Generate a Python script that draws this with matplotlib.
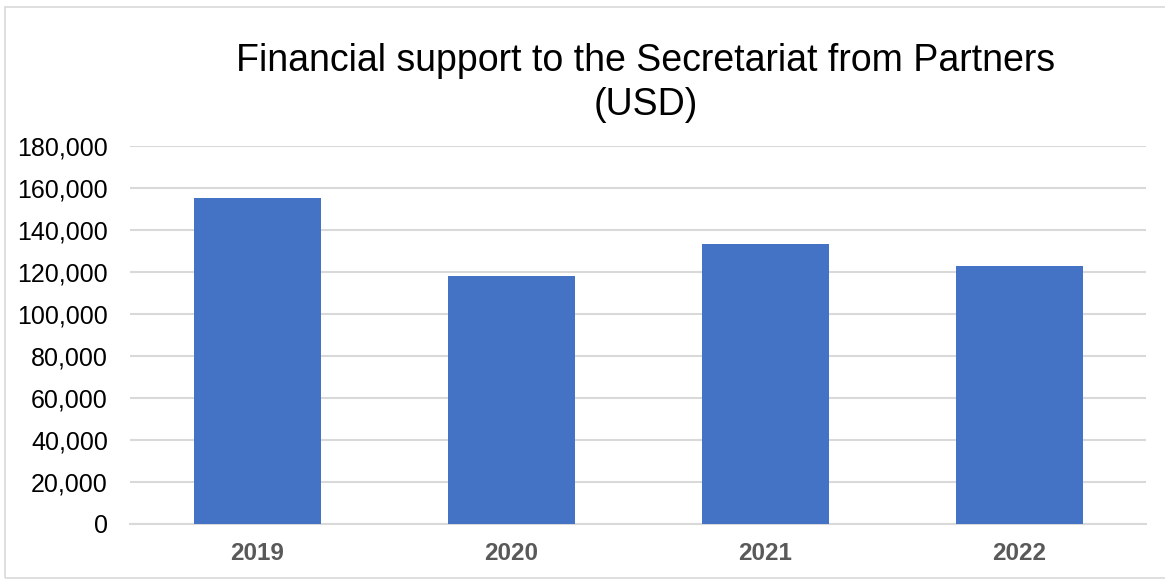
import matplotlib.pyplot as plt
from matplotlib.ticker import FuncFormatter
from matplotlib.patches import Rectangle

years = ["2019", "2020", "2021", "2022"]
support_usd = [155000, 118000, 133200, 123000]

plt.rcParams['font.family'] = ['Liberation Sans', 'DejaVu Sans']

fig = plt.figure(figsize=(11.65, 5.8), dpi=100)
ax = fig.add_axes([0.1116, 0.0974, 0.8721, 0.6509])

# outer chart frame
fig.patches.append(Rectangle((5 / 1165, 2 / 580), 1.0, 571 / 580, transform=fig.transFigure,
                             fill=False, edgecolor='#d9d9d9', linewidth=1.2))

ax.bar(years, support_usd, width=0.5, color='#4472C4', zorder=3)

ax.set_ylim(0, 180000)
ax.set_xlim(-0.5, 3.5)
ax.set_yticks(range(0, 180001, 20000))
ax.yaxis.set_major_formatter(FuncFormatter(lambda v, p: f"{int(v):,}"))
ax.grid(axis='y', color='#d9d9d9', linewidth=1.5, zorder=0)

for s in ['top', 'right', 'left']:
    ax.spines[s].set_visible(False)
ax.spines['bottom'].set_color('#d9d9d9')
ax.spines['bottom'].set_linewidth(1.5)
ax.tick_params(axis='both', length=0)
ax.tick_params(axis='y', labelsize=18, pad=16, labelcolor='#000000')
ax.tick_params(axis='x', labelsize=17.5, pad=13, labelcolor='#595959')
for lbl in ax.get_xticklabels():
    lbl.set_fontweight('bold')

fig.text(0.5545, 0.857, "Financial support to the Secretariat from Partners\n(USD)",
         ha='center', va='center', fontsize=27, color='#000000', linespacing=1.3)

fig.savefig("out.png", dpi=100)
